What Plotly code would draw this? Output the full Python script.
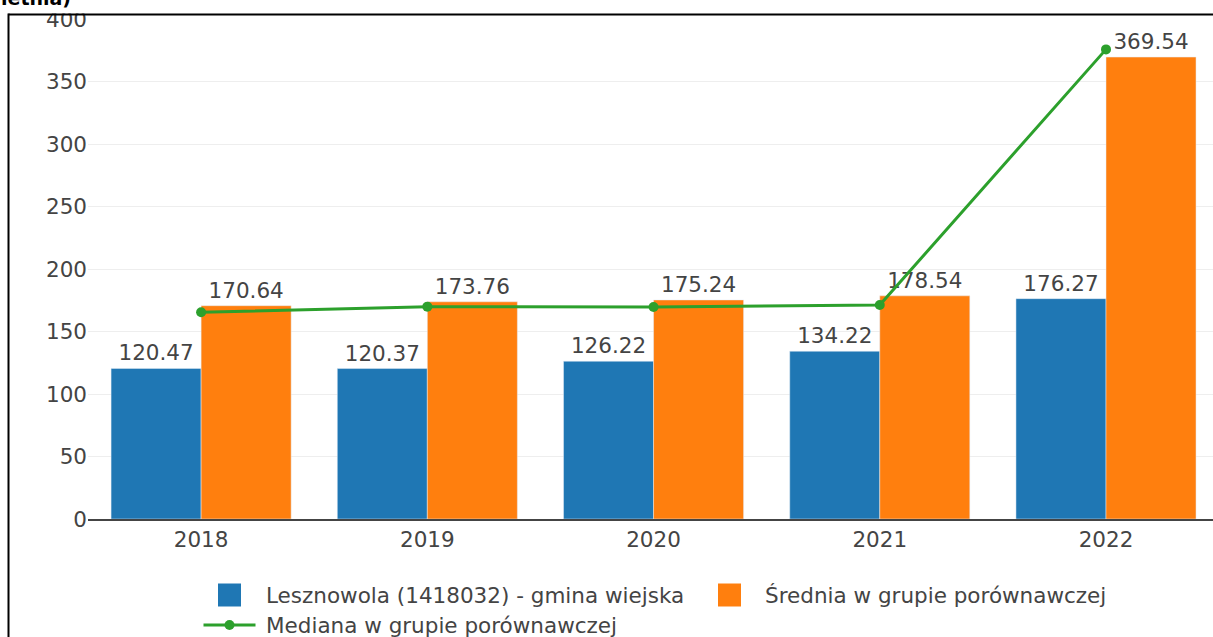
import plotly.graph_objects as go

years = ["2018", "2019", "2020", "2021", "2022"]
gmina = [120.47, 120.37, 126.22, 134.22, 176.27]
srednia = [170.64, 173.76, 175.24, 178.54, 369.54]
mediana = [165.4, 169.9, 169.6, 171.2, 375.7]
names = ["Lesznowola (1418032) - gmina wiejska",
         "Średnia w grupie porównawczej",
         "Mediana w grupie porównawczej"]
colors = ["#1f77b4", "#ff7f0e", "#2ca02c"]
y_ticks = [0, 50, 100, 150, 200, 250, 300, 350, 400]

W, H = 1213, 637
L, R, T, B = 88, 0, 19, 118
FONT = "Verdana, DejaVu Sans, sans-serif"
FS = 21.5

fig = go.Figure()
fig.add_trace(go.Bar(x=years, y=gmina, name=names[0], marker_color=colors[0],
                     text=[f"{v:.2f}" for v in gmina], textposition="outside",
                     textfont=dict(size=FS, color="#444"), cliponaxis=False))
fig.add_trace(go.Bar(x=years, y=srednia, name=names[1], marker_color=colors[1],
                     text=[f"{v:.2f}" for v in srednia], textposition="outside",
                     textfont=dict(size=FS, color="#444"), cliponaxis=False))
fig.add_trace(go.Scatter(x=years, y=mediana, name=names[2], mode="lines+markers",
                         line=dict(color=colors[2], width=3),
                         marker=dict(size=10, color=colors[2]), cliponaxis=False))

pw = W - L - R
ph = H - T - B


def px(xp):
    return (xp - L) / pw


def py(yp):
    return (H - B - yp) / ph


shapes = []
annotations = []
# white cover above the frame and frame lines
shapes.append(dict(type="rect", xref="paper", yref="paper", x0=px(-5), x1=px(W + 5),
                   y0=py(13.5), y1=py(-5), fillcolor="white", line=dict(width=0), layer="above"))
shapes.append(dict(type="line", xref="paper", yref="paper", x0=px(8.5), x1=px(W + 5),
                   y0=py(14.5), y1=py(14.5), line=dict(color="black", width=2), layer="above"))
shapes.append(dict(type="line", xref="paper", yref="paper", x0=px(8.5), x1=px(8.5),
                   y0=py(13.5), y1=py(H + 5), line=dict(color="black", width=2), layer="above"))

annotations.append(dict(text="<b>letnia)</b>", xref="paper", yref="paper", x=px(-1), y=py(11),
                        xanchor="left", yanchor="bottom", showarrow=False,
                        font=dict(size=19, color="black", family=FONT)))

# manual legend
leg = [(229.5, 595, "sq", colors[0], names[0], 264),
       (729.5, 595, "sq", colors[1], names[1], 763),
       (229.5, 625, "ln", colors[2], names[2], 264)]
for cx, cy, kind, col, nm, tx in leg:
    if kind == "sq":
        shapes.append(dict(type="rect", xref="paper", yref="paper",
                           x0=px(cx - 11.5), x1=px(cx + 11.5), y0=py(cy + 11.5), y1=py(cy - 11.5),
                           fillcolor=col, line=dict(width=0)))
    else:
        shapes.append(dict(type="line", xref="paper", yref="paper",
                           x0=px(cx - 26), x1=px(cx + 26), y0=py(cy), y1=py(cy),
                           line=dict(color=col, width=3)))
        shapes.append(dict(type="circle", xref="paper", yref="paper",
                           x0=px(cx - 5), x1=px(cx + 5), y0=py(cy + 5), y1=py(cy - 5),
                           fillcolor=col, line=dict(width=0)))
    annotations.append(dict(text=nm, xref="paper", yref="paper", x=px(tx), y=py(cy),
                            xanchor="left", yanchor="middle", showarrow=False,
                            font=dict(size=FS, color="#444", family=FONT)))

fig.update_layout(
    width=W, height=H,
    margin=dict(l=L, r=R, t=T, b=B, pad=0),
    paper_bgcolor="white", plot_bgcolor="white",
    font=dict(family=FONT, size=FS, color="#444"),
    barmode="group", bargap=0.204, bargroupgap=0,
    showlegend=False,
    shapes=shapes, annotations=annotations,
    xaxis=dict(type="category", range=[-0.5, 4.473], showline=True, linecolor="#444",
               linewidth=2, showgrid=False, ticks="", tickfont=dict(size=FS)),
    yaxis=dict(range=[0, 400], tickvals=y_ticks, gridcolor="#eee", gridwidth=1,
               zeroline=False, showline=False, ticks="", tickfont=dict(size=FS)),
)

fig.write_html("out.html", config={"displayModeBar": False},
               post_script="document.body.style.margin='0';document.body.style.overflow='hidden';")
